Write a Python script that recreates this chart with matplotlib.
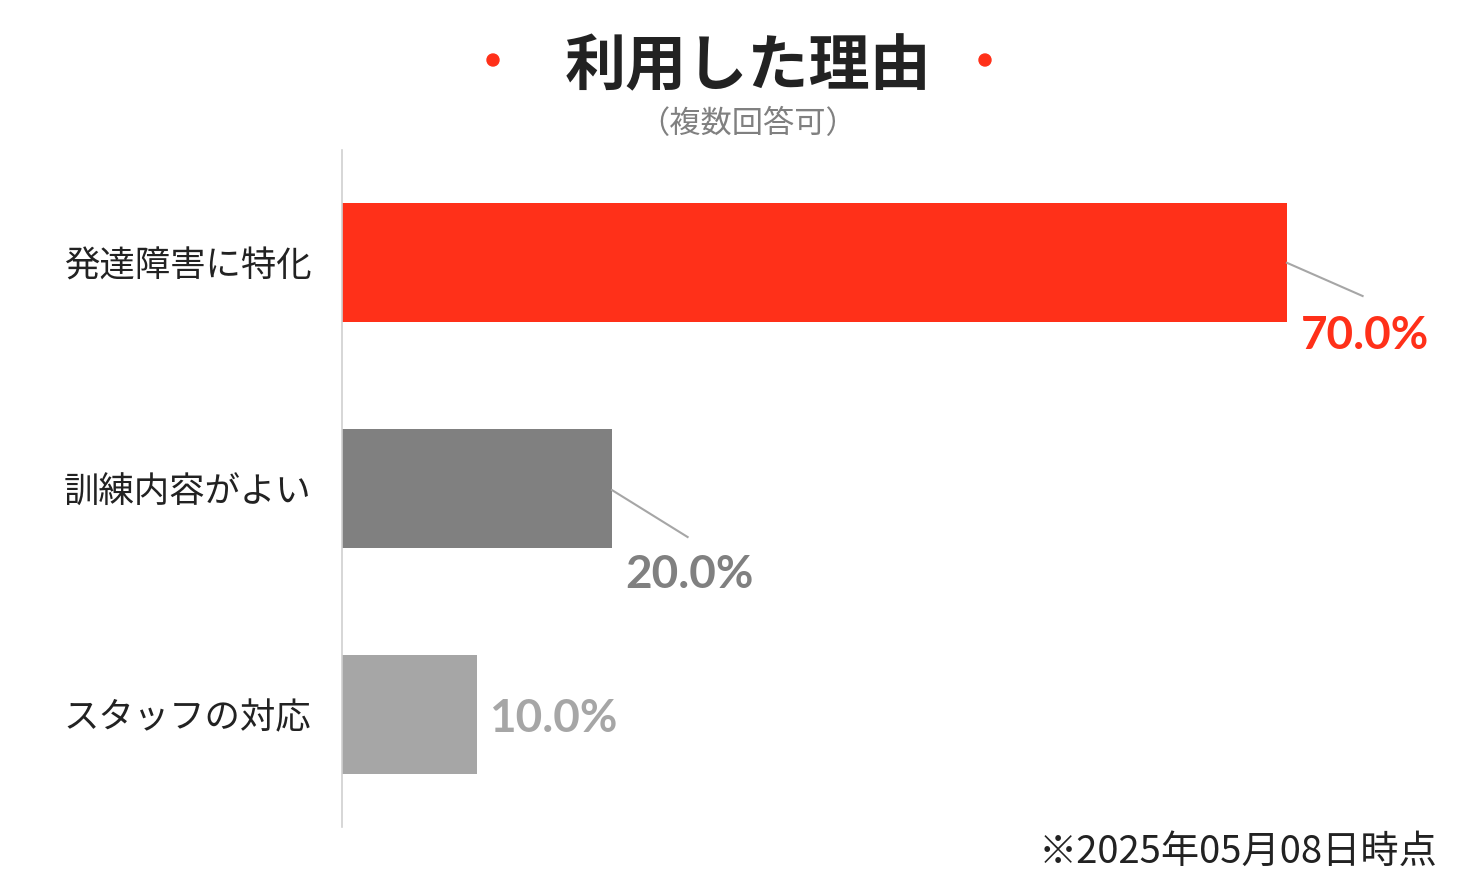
import matplotlib
matplotlib.use("Agg")
import matplotlib.pyplot as plt
from matplotlib.patches import Ellipse

categories = ["発達障害に特化", "訓練内容がよい", "スタッフの対応"]
values = [70.0, 20.0, 10.0]
value_labels = ["70.0%", "20.0%", "10.0%"]
bar_colors = ["#ff3019", "#808080", "#a6a6a6"]
title = "利用した理由"
subtitle = "（複数回答可）"
footnote = "※2025年05月08日時点"

JP = ["Noto Sans CJK JP", "DejaVu Sans"]
NUM = "Lato"

W, H = 1475, 890
fig = plt.figure(figsize=(W / 100, H / 100), dpi=100)
fig.patch.set_facecolor("white")

left_px, right_px, top_px, bot_px = 342, 1440, 150, 827
ax = fig.add_axes([left_px / W, 1 - bot_px / H, (right_px - left_px) / W, (bot_px - top_px) / H])
scale = 945 / 70.0
ax.set_xlim(0, (right_px - left_px) / scale)
ax.set_ylim(2.5, -0.5)

ypos = list(range(len(categories)))
ax.barh(ypos, values, height=0.527, color=bar_colors, zorder=2)

for s in ["top", "right", "bottom"]:
    ax.spines[s].set_visible(False)
ax.spines["left"].set_color("#d0d0d0")
ax.spines["left"].set_linewidth(1.2)
ax.set_xticks([])
ax.set_yticks(ypos)
ax.set_yticklabels(categories, family=JP, fontsize=25.5, color="#222222")
ax.tick_params(axis="y", length=0, pad=22)

# value labels
v = values[0]
ax.plot([v, v + 5.6], [0.0, 0.147], color="#a6a6a6", lw=1.5, zorder=3, clip_on=False)
ax.text(v + 5.8, 0.325, value_labels[0], ha="center", va="center", fontsize=33,
        fontweight="bold", family=NUM, color=bar_colors[0])
v = values[1]
ax.plot([v, v + 5.6], [1.007, 1.215], color="#a6a6a6", lw=1.5, zorder=3, clip_on=False)
ax.text(v + 5.7, 1.385, value_labels[1], ha="center", va="center", fontsize=33,
        fontweight="bold", family=NUM, color=bar_colors[1])
v = values[2]
ax.text(v + 0.9, 2.02, value_labels[2], ha="left", va="center", fontsize=33,
        fontweight="bold", family=NUM, color=bar_colors[2])

# title
fig.text(748 / W, 1 - 68 / H, title, ha="center", va="center", fontsize=44,
         fontweight="bold", family=JP, color="#222222")
fig.text(748 / W, 1 - 124 / H, subtitle, ha="center", va="center", fontsize=22.5,
         family=JP, color="#808080")
for xd in (493, 985):
    fig.patches.append(Ellipse((xd / W, 1 - 60 / H), 12 / W, 12 / H, transform=fig.transFigure,
                               color="#ff3019"))
fig.text(1438 / W, 1 - 852 / H, footnote, ha="right", va="center", fontsize=27.5,
         family=JP, color="#222222")

fig.savefig("out.png", dpi=100, facecolor="white")
